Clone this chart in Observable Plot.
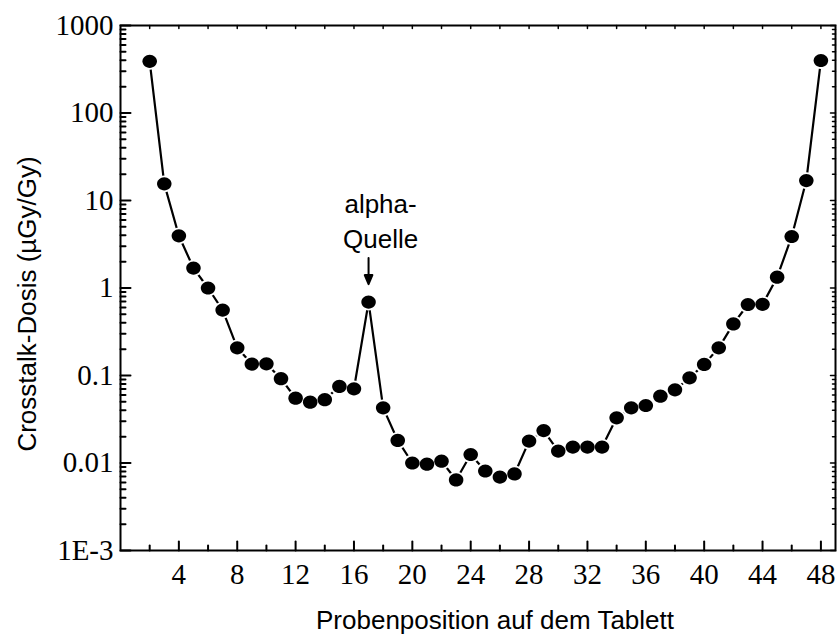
<!DOCTYPE html>
<html>
<head>
<meta charset="utf-8">
<script src="https://cdn.jsdelivr.net/npm/d3@7"></script>
<script src="https://cdn.jsdelivr.net/npm/@observablehq/plot@0.6"></script>
<style>
  html, body { margin: 0; padding: 0; background: #fff; }
  svg { display: block; }
  g[aria-label="x-axis tick label"] text, g[aria-label="y-axis tick label"] text,
  g[aria-label="x-axis tick label"], g[aria-label="y-axis tick label"] {
    font-family: "Liberation Serif", "DejaVu Serif", serif !important;
    font-size: 29px !important;
    font-variant: normal !important;
  }
</style>
</head>
<body>
<div id="chart"></div>
<script>
// ---- data ----
const positions = [2, 3, 4, 5, 6, 7, 8, 9, 10, 11, 12, 13, 14, 15, 16, 17, 18, 19, 20, 21, 22, 23, 24, 25,
  26, 27, 28, 29, 30, 31, 32, 33, 34, 35, 36, 37, 38, 39, 40, 41, 42, 43, 44, 45, 46, 47, 48];
const crosstalk = [390, 15.5, 3.95, 1.69, 1.0, 0.56, 0.207, 0.135, 0.136, 0.092, 0.055, 0.0496, 0.053, 0.075,
  0.0705, 0.69, 0.0427, 0.0181, 0.0100, 0.0097, 0.0105, 0.0064, 0.0125, 0.0081, 0.0069, 0.0075,
  0.0178, 0.0235, 0.0137, 0.0152, 0.0152, 0.0152, 0.0328, 0.0427, 0.0454, 0.058, 0.0686, 0.094,
  0.134, 0.207, 0.389, 0.648, 0.65, 1.33, 3.88, 16.9, 398];

const xMajorTicks = [4, 8, 12, 16, 20, 24, 28, 32, 36, 40, 44, 48];
const xMinorTicks = [2, 6, 10, 14, 18, 22, 26, 30, 34, 38, 42, 46];
const yMajorTicks = [1e-3, 1e-2, 1e-1, 1, 10, 100, 1000];
const yTickLabels = ["1E-3", "0.01", "0.1", "1", "10", "100", "1000"];
const xLabel = "Probenposition auf dem Tablett";
const yLabel = "Crosstalk-Dosis (\u00B5Gy/Gy)";
const annotationLines = ["alpha-", "Quelle"];
const annotatedPosition = 17;

// ---- derived tables ----
const data = positions.map((p, i) => ({position: p, dose: crosstalk[i]}));
const annotated = data.filter(d => d.position === annotatedPosition);
const yMinorTicks = yMajorTicks.slice(0, -1).flatMap(d => [2, 3, 4, 5, 6, 7, 8, 9].map(m => d * m));
const xAllTicks = [...xMinorTicks, ...xMajorTicks];
const yFmt = v => {
  const i = yMajorTicks.findIndex(t => Math.abs(Math.log10(t) - Math.log10(v)) < 1e-6);
  return i >= 0 ? yTickLabels[i] : "";
};

const sans = "Liberation Sans, Arial, sans-serif";
const serif = "Liberation Serif, DejaVu Serif, serif";

// custom shapes
const tickShape = { draw(ctx, l) { ctx.moveTo(0, 0); ctx.lineTo(0, -l); } };
const arrowShape = { draw(ctx, l) {
  ctx.moveTo(0, 0); ctx.lineTo(0, -l + 7);
  ctx.moveTo(-3.8, -l + 9); ctx.lineTo(0, -l); ctx.lineTo(3.8, -l + 9); ctx.closePath();
} };
const ellipse = { draw(ctx, size) {
  const r = Math.sqrt(size / Math.PI), rx = r * 1.1, ry = r, k = 0.5523;
  ctx.moveTo(rx, 0);
  ctx.bezierCurveTo(rx, ry * k, rx * k, ry, 0, ry);
  ctx.bezierCurveTo(-rx * k, ry, -rx, ry * k, -rx, 0);
  ctx.bezierCurveTo(-rx, -ry * k, -rx * k, -ry, 0, -ry);
  ctx.bezierCurveTo(rx * k, -ry, rx, -ry * k, rx, 0);
  ctx.closePath();
} };

const xMin = 0, xMax = 49, yMin = 1e-3, yMax = 1e3;

const chart = Plot.plot({
  width: 840,
  height: 634,
  marginLeft: 120,
  marginRight: 5,
  marginTop: 25,
  marginBottom: 84,
  style: {fontFamily: serif, fontSize: "29px", color: "black", background: "white"},
  x: {domain: [xMin, xMax]},
  y: {type: "log", domain: [yMin, yMax]},
  marks: [
    // tick labels
    Plot.axisX({ticks: xMajorTicks, tickSize: 0, tickPadding: 13, label: null, fontSize: 29,
      tickFormat: d => String(d)}),
    Plot.axisY({ticks: yMajorTicks, tickSize: 0, tickPadding: 7, label: null, fontSize: 29,
      tickFormat: yFmt}),
    // inward ticks: bottom
    Plot.vector(xMajorTicks, {x: d => d, y: () => yMin, length: 9, rotate: 0, anchor: "start", shape: tickShape, stroke: "black", strokeWidth: 2}),
    Plot.vector(xMinorTicks, {x: d => d, y: () => yMin, length: 5, rotate: 0, anchor: "start", shape: tickShape, stroke: "black", strokeWidth: 2}),
    // top
    Plot.vector(xAllTicks, {x: d => d, y: () => yMax, length: 3, rotate: 180, anchor: "start", shape: tickShape, stroke: "black", strokeWidth: 1.5}),
    // left
    Plot.vector(yMajorTicks, {x: () => xMin, y: d => d, length: 10, rotate: 90, anchor: "start", shape: tickShape, stroke: "black", strokeWidth: 2}),
    Plot.vector(yMinorTicks, {x: () => xMin, y: d => d, length: 5, rotate: 90, anchor: "start", shape: tickShape, stroke: "black", strokeWidth: 2}),
    // right
    Plot.vector(yMajorTicks, {x: () => xMax, y: d => d, length: 5, rotate: -90, anchor: "start", shape: tickShape, stroke: "black", strokeWidth: 1.5}),
    Plot.vector(yMinorTicks, {x: () => xMax, y: d => d, length: 3, rotate: -90, anchor: "start", shape: tickShape, stroke: "black", strokeWidth: 1.5}),
    // data
    Plot.line(data, {x: "position", y: "dose", stroke: "black", strokeWidth: 2.2}),
    Plot.dot(data, {x: "position", y: "dose", r: 8.4, symbol: ellipse, fill: "white", stroke: "none"}),
    Plot.dot(data, {x: "position", y: "dose", r: 6.6, symbol: ellipse, fill: "black", stroke: "none"}),
    // annotation
    Plot.vector(annotated, {x: "position", y: "dose", length: 26, rotate: 180, anchor: "end", dy: -18,
      shape: arrowShape, stroke: "black", fill: "black", strokeWidth: 2}),
    Plot.text(annotated, {x: "position", y: "dose", text: () => annotationLines[0], dx: 12, dy: -97,
      lineAnchor: "middle", textAnchor: "middle", fontFamily: sans, fontSize: 26, fill: "black", ariaLabel: "ann1"}),
    Plot.text(annotated, {x: "position", y: "dose", text: () => annotationLines[1], dx: 12, dy: -62,
      lineAnchor: "middle", textAnchor: "middle", fontFamily: sans, fontSize: 26, fill: "black", ariaLabel: "ann2"}),
    // axis titles
    Plot.text([xLabel], {text: d => d, frameAnchor: "bottom", dx: 17, dy: 70, lineAnchor: "middle", textAnchor: "middle",
      fontFamily: sans, fontSize: 26, fill: "black", ariaLabel: "xtitle"}),
    Plot.text([yLabel], {text: d => d, frameAnchor: "left", rotate: -90, dx: -93, dy: 16, lineAnchor: "middle", textAnchor: "middle",
      fontFamily: sans, fontSize: 26, fill: "black", ariaLabel: "ytitle"}),
    Plot.frame({stroke: "black", strokeWidth: 2})
  ]
});

// stretch sans texts horizontally like the reference
const stretch = (label, len) => {
  chart.querySelectorAll(`g[aria-label="${label}"] text`).forEach(t => {
    t.setAttribute("textLength", len);
    t.setAttribute("lengthAdjust", "spacingAndGlyphs");
  });
};
stretch("xtitle", 396);
stretch("ann1", 84);
stretch("ann2", 82);
stretch("ytitle", 297);

document.getElementById("chart").appendChild(chart);
</script>
</body>
</html>
